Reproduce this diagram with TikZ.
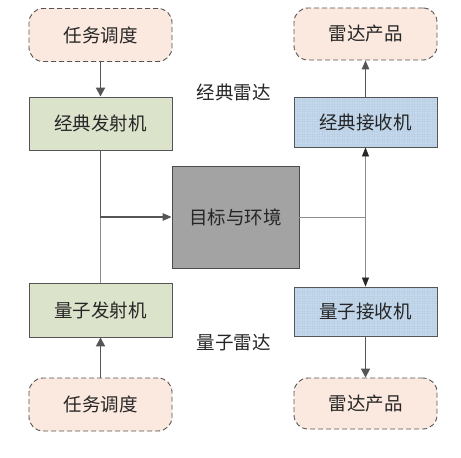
\documentclass[tikz,border=0pt]{standalone}
\usepackage{fontspec}
\setmainfont{Noto Sans CJK SC}
\usetikzlibrary{arrows.meta,positioning}
\definecolor{taskfill}{HTML}{FBE8DE}
\definecolor{txfill}{HTML}{DCE3CB}
\definecolor{rxfill}{HTML}{C6DAEE}
\definecolor{rxgrid}{HTML}{BCD0E6}
\definecolor{tgtfill}{HTML}{A3A3A3}
\definecolor{edge}{HTML}{555555}
\tikzset{
  every node/.style={font=\fontsize{18.5bp}{22bp}\selectfont, text=black!85},
  taskbox/.style={draw=edge, dashed, dash pattern=on 5bp off 3bp, rounded corners=14bp, fill=taskfill, line width=0.9bp, minimum width=143bp, minimum height=53bp, inner sep=0},
  txbox/.style={draw=edge, fill=txfill, line width=0.9bp, minimum width=143bp, minimum height=53bp, inner sep=0},
  rxbox/.style={draw=edge, fill=rxfill, line width=0.9bp, minimum width=143bp, minimum height=50bp, inner sep=0,
    path picture={\draw[rxgrid, line width=0.2bp, step=2.5bp] (path picture bounding box.south west) grid (path picture bounding box.north east);}},
  tgtbox/.style={draw=edge!90!black, fill=tgtfill, line width=0.9bp, minimum width=127bp, minimum height=102bp, inner sep=0},
  thick arrow/.style={draw=edge, line width=1.8bp, -{Triangle[length=9bp,width=9bp]}},
  thin line/.style={draw=black!45, line width=0.7bp},
  thin arrow/.style={draw=black!45, line width=0.7bp, -{Triangle[length=9bp,width=7bp,fill=black!85,color=black!85]}},
  mid arrow/.style={draw=edge, line width=1.3bp, -{Triangle[length=9bp,width=7.5bp]}},
  lbl/.style={font=\fontsize{18.5bp}{22bp}\selectfont}
}
\begin{document}
\begin{tikzpicture}[x=1bp,y=-1bp]
\useasboundingbox (0,0) rectangle (461,458);
\fill[white] (0,0) rectangle (461,458);
\node[taskbox] (task1) at (100.5,35) {任务调度};
\node[txbox] (ctx) at (100.5,123.5) {经典发射机};
\node[txbox, minimum height=54bp] (qtx) at (100.5,310) {量子发射机};
\node[taskbox] (task2) at (100.5,404.5) {任务调度};
\node[tgtbox] (tgt) at (235.5,217) {目标与环境};
\node[taskbox, minimum height=52bp] (prod1) at (365.5,34) {雷达产品};
\node[rxbox] (crx) at (365.5,122) {经典接收机};
\node[rxbox, minimum height=49bp] (qrx) at (365.5,311.5) {量子接收机};
\node[taskbox, minimum height=51bp] (prod2) at (365.5,403.5) {雷达产品};
\node[lbl, anchor=west] (lc) at (193,92) {经典雷达};
\node[lbl, anchor=west] (lq) at (193,342) {量子雷达};
\coordinate (j1) at (ctx.south |- tgt.west);
\coordinate (j2) at (crx.south |- tgt.east);
\draw[thick arrow] (task1) -- (ctx);
\draw[thin line] (j1) -- (qtx.north);
\draw[mid arrow] (ctx.south) |- (tgt.west);
\draw[thick arrow] (task2) -- (qtx);
\draw[thin line] (tgt.east) -- (j2);
\draw[thin arrow] (j2) -- (crx.south);
\draw[thin arrow] (j2) -- (qrx.north);
\draw[thick arrow] (qrx) -- (prod2);
\draw[mid arrow] (crx) -- (prod1);
\end{tikzpicture}
\end{document}
